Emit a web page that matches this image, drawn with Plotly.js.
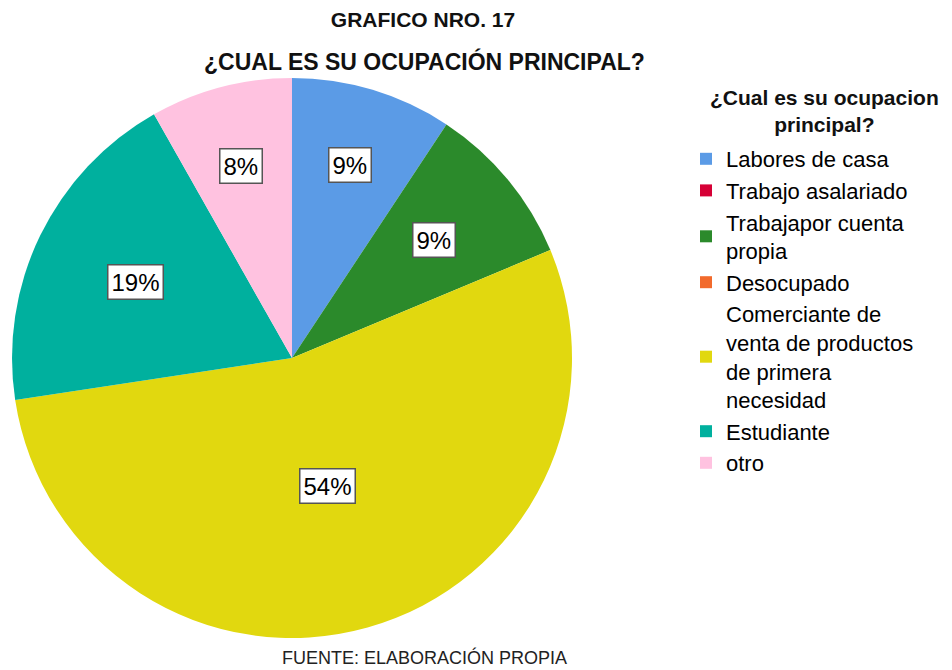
<!DOCTYPE html>
<html>
<head>
<meta charset="utf-8">
<script src="https://cdn.plot.ly/plotly-3.0.1.min.js"></script>
<style>html,body{margin:0;padding:0;background:#fff;}#chart{width:952px;height:670px;}</style>
</head>
<body>
<div id="chart"></div>
<script>
// ---- data ----
const categories = [
  "Labores de casa",
  "Trabajo asalariado",
  "Trabajapor cuenta<br>propia",
  "Desocupado",
  "Comerciante de<br>venta de productos<br>de primera<br>necesidad",
  "Estudiante",
  "otro"
];
const percents = [9.3, 0, 9.4, 0, 53.9, 19.2, 8.2];
const sliceColors = ["#5b9be6", "#d60036", "#2b8a2b", "#f26a2c", "#e1d80f", "#00b09e", "#ffc2e0"];
const labelRadius = [0.72, 0, 0.66, 0, 0.475, 0.62, 0.71];

// ---- geometry (layout) ----
const W = 952, H = 670;
const cxPx = 292, cyPx = 312, rPx = 280; // cy measured from bottom
const domX = [(cxPx - rPx) / W, (cxPx + rPx) / W];
const domY = [(cyPx - rPx) / H, (cyPx + rPx) / H];
const FONT = "Liberation Sans, Arial, sans-serif";

const total = percents.reduce((a, b) => a + b, 0);
const annotations = [];
let cum = 0;
percents.forEach((v, i) => {
  if (v > 0) {
    const th = 2 * Math.PI * (cum + v / 2) / total;
    const f = labelRadius[i];
    annotations.push({
      xref: "paper", yref: "paper",
      x: (cxPx + rPx * f * Math.sin(th)) / W,
      y: (cyPx + rPx * f * Math.cos(th)) / H,
      text: Math.round(v / total * 100) + "%",
      showarrow: false,
      font: {family: FONT, size: 24, color: "#000"},
      bgcolor: "#ffffff", bordercolor: "#555555", borderwidth: 1.5, borderpad: 3,
      xanchor: "center", yanchor: "middle"
    });
  }
  cum += v;
});

annotations.push({
  xref: "paper", yref: "paper", x: 424 / W, y: 1 - 62 / H,
  text: "<b>¿CUAL ES SU OCUPACIÓN PRINCIPAL?</b>", showarrow: false,
  font: {family: FONT, size: 23, color: "#111"},
  xanchor: "center", yanchor: "middle"
});
annotations.push({
  xref: "paper", yref: "paper", x: 424 / W, y: 1 - 657 / H,
  text: "FUENTE: ELABORACIÓN PROPIA", showarrow: false,
  font: {family: FONT, size: 18, color: "#222"},
  xanchor: "center", yanchor: "middle"
});
// legend heading
annotations.push({
  xref: "paper", yref: "paper", x: 824 / W, y: 1 - 111 / H,
  text: "<b>¿Cual es su ocupacion<br>principal?</b>", showarrow: false, align: "center",
  font: {family: FONT, size: 21, color: "#111"},
  xanchor: "center", yanchor: "middle"
});

const trace = {
  type: "pie",
  labels: categories,
  values: percents,
  sort: false,
  direction: "clockwise",
  rotation: 0,
  textinfo: "none",
  hoverinfo: "none",
  marker: {colors: sliceColors, line: {width: 0}},
  domain: {x: domX, y: domY}
};

const layout = {
  width: W, height: H,
  margin: {l: 0, r: 0, t: 0, b: 0},
  paper_bgcolor: "#fff",
  font: {family: FONT, color: "#000"},
  title: {
    text: "<b>GRAFICO NRO. 17</b>",
    x: 423 / W, xanchor: "center",
    y: 1 - 20 / H, yanchor: "middle",
    font: {family: FONT, size: 21, color: "#111"}
  },
  showlegend: true,
  legend: {
    x: 686 / W, xanchor: "left",
    y: 1 - 138 / H, yanchor: "top",
    font: {family: FONT, size: 22, color: "#000"},
    traceorder: "normal",
    itemclick: false, itemdoubleclick: false
  },
  annotations: annotations
};

Plotly.newPlot("chart", [trace], layout, {displayModeBar: false, staticPlot: true});
</script>
</body>
</html>
